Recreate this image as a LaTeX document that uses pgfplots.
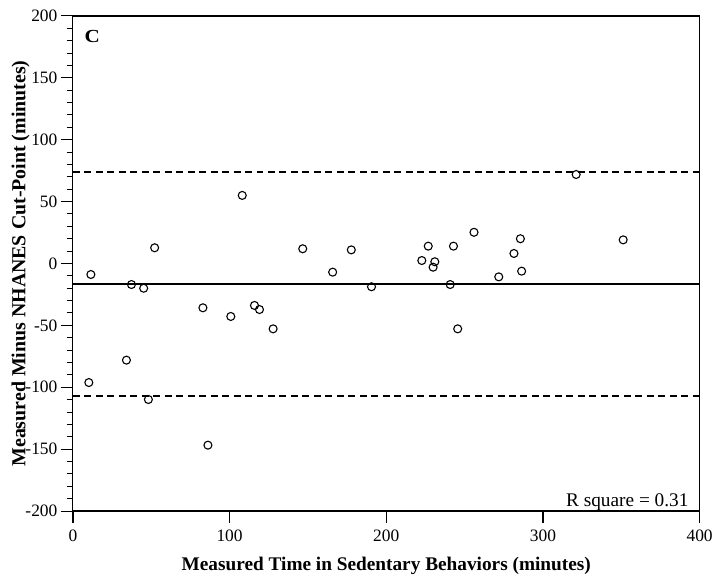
\documentclass[border=0pt]{standalone}
\usepackage{fontspec}
\setmainfont{Liberation Serif}
\usepackage{pgfplots}
\pgfplotsset{compat=1.18}
\begin{document}
\begin{tikzpicture}
\begin{axis}[
 scale only axis, width=628bp, height=496bp,
 xmin=0,xmax=400,ymin=-200,ymax=200,
 xtick={0,100,200,300,400}, xticklabels={0,100,200,300,400},
 ytick={-200,-150,-100,-50,0,50,100,150,200},
 yticklabels={-200,-150,-100,-50,0,50,100,150,200},
 minor ytick={-190,-180,...,190},
 tick align=outside, tick pos=left,
 major tick length=12bp, minor tick length=6bp,
 every tick/.style={black, line width=1bp},
 xtick style={black, line width=1.4bp},
 xlabel={Measured Time in Sedentary Behaviors (minutes)},
 ylabel={Measured Minus NHANES Cut-Point (minutes)},
 ticklabel style={font=\fontsize{17.5}{20}\selectfont},
 yticklabel style={xshift=0bp},
 xticklabel style={yshift=-3bp},
 xlabel style={font=\fontsize{19.4}{22}\selectfont\bfseries, yshift=-9bp},
 ylabel style={font=\fontsize{20}{22}\selectfont\bfseries, yshift=-11bp},
 axis line style={line width=1.2bp},
 clip=false,
]
\addplot[black, line width=2bp] coordinates {(0,-16.2) (400,-16.2)};
\addplot[black, line width=2bp, dash pattern=on 7bp off 4.5bp] coordinates {(0,74.1) (400,74.1)};
\addplot[black, line width=2bp, dash pattern=on 7bp off 4.5bp] coordinates {(0,-106.7) (400,-106.7)};
\addplot[only marks, mark=o, mark size=4bp, mark options={line width=1.1bp, black, fill=white}] coordinates {
(11.5,-8.9) (37.4,-17) (45.2,-20) (52.2,12.7) (108.1,55) (146.7,11.9) (165.8,-7) (177.7,11)
(190.6,-18.8) (222.7,2.4) (226.8,14) (231,1.4) (229.9,-3) (242.9,14) (240.8,-17) (256,25.2)
(271.8,-10.8) (281.5,8.1) (285.6,20) (286.4,-6.2) (321.2,71.9) (351.2,19.1)
(83,-35.8) (100.8,-42.8) (115.9,-33.9) (119.1,-37.2) (127.8,-52.8) (34.2,-78.1) (10.2,-96.2)
(48.2,-109.9) (86.2,-146.8) (245.6,-52.8)
};
\node[anchor=north west, font=\fontsize{18.5}{22}\selectfont\bfseries, inner sep=0pt, xscale=1.15] at (rel axis cs:0,1) [xshift=10bp, yshift=-14bp] {C};
\node[anchor=base east, font=\fontsize{19.4}{22}\selectfont, inner sep=0pt] at (rel axis cs:1,0) [xshift=-11bp, yshift=5bp] {R square = 0.31};
\end{axis}
\path (current axis.south west) ++(-73bp,-72bp) (current axis.north east) ++(15bp,16bp);
\end{tikzpicture}
\end{document}
